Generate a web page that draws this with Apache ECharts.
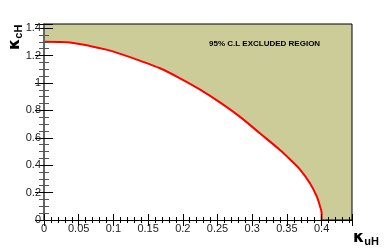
<!DOCTYPE html>
<html><head><meta charset="utf-8">
<script src="https://cdn.jsdelivr.net/npm/echarts@6/dist/echarts.min.js"></script>
<style>html,body{margin:0;padding:0;background:#fff}#c{width:391px;height:249px}</style>
</head><body><div id="c"></div>
<script>
// Contour of the 95% C.L. limit: kappa_uH (x) vs kappa_cH (y)
var kuH = [0, 0.02, 0.0375, 0.066, 0.09, 0.11, 0.138, 0.167, 0.196, 0.225, 0.254, 0.282, 0.311, 0.340, 0.355, 0.369, 0.383, 0.393, 0.398, 0.4, 0.4];
var kcH = [1.30, 1.299, 1.295, 1.27, 1.243, 1.212, 1.163, 1.107, 1.034, 0.951, 0.856, 0.754, 0.633, 0.511, 0.44, 0.368, 0.27, 0.172, 0.095, 0.05, 0];
var xTicks = [0, 0.05, 0.1, 0.15, 0.2, 0.25, 0.3, 0.35, 0.4];
var yTicks = [0, 0.2, 0.4, 0.6, 0.8, 1, 1.2, 1.4];
var xMax = 0.4438, yMax = 1.43;
var regionLabel = '95% C.L EXCLUDED REGION';

var data = kuH.map(function (x, i) { return [x, kcH[i]]; });
var fmt = function (v) {
  var all = xTicks.concat(yTicks);
  for (var i = 0; i < all.length; i++) if (Math.abs(all[i] - v) < 1e-6) return String(all[i]);
  return '';
};
var chart = echarts.init(document.getElementById('c'), null, {renderer: 'canvas'});
var font = 'Liberation Sans, Arial, sans-serif';
var common = {
  type: 'value', z: 5,
  axisLine: {show: true, lineStyle: {color: '#000', width: 1}},
  splitLine: {show: false}
};
chart.setOption({
  animation: false,
  grid: {left: 44, right: 39, top: 24, bottom: 29, show: true, backgroundColor: '#cccc99', borderColor: '#000', borderWidth: 1},
  xAxis: [
    Object.assign({}, common, {
      min: 0, max: xMax, interval: 0.05, position: 'bottom',
      axisTick: {inside: true, length: 6, lineStyle: {color: '#000'}},
      minorTick: {show: true, splitNumber: 5, length: 3, lineStyle: {color: '#000'}},
      axisLabel: {formatter: fmt, showMaxLabel: false, fontFamily: font, fontSize: 11, color: '#222', margin: 3}
    }),
    Object.assign({}, common, {
      min: 0, max: xMax, interval: 0.05, position: 'top',
      axisTick: {inside: true, length: 6, lineStyle: {color: '#000'}},
      minorTick: {show: true, splitNumber: 5, length: 3, lineStyle: {color: '#000'}},
      axisLabel: {show: false}
    })
  ],
  yAxis: [
    Object.assign({}, common, {
      min: 0, max: yMax, interval: 0.2, position: 'left',
      axisLine: {show: true, lineStyle: {color: '#666', width: 2}},
      axisTick: {inside: true, length: 9, lineStyle: {color: '#000'}},
      minorTick: {show: true, splitNumber: 4, length: 5, lineStyle: {color: '#555'}},
      axisLabel: {formatter: fmt, showMaxLabel: true, fontFamily: font, fontSize: 11, color: '#222', margin: 3}
    }),
    Object.assign({}, common, {
      min: 0, max: yMax, interval: 0.2, position: 'right',
      axisLine: {show: true, lineStyle: {color: '#666', width: 1}},
      axisTick: {inside: true, length: 9, lineStyle: {color: '#000'}},
      minorTick: {show: true, splitNumber: 4, length: 5, lineStyle: {color: '#555'}},
      axisLabel: {show: false}
    })
  ],
  series: [{
    type: 'line', data: data, xAxisIndex: 0, yAxisIndex: 0,
    showSymbol: false, symbol: 'none', smooth: 0.35,
    lineStyle: {color: '#ff0000', width: 2},
    areaStyle: {color: '#ffffff', opacity: 1, origin: 'start'},
    z: 2
  }],
  graphic: [
    {type: 'text', left: 209, top: 40, z: 10,
     style: {text: regionLabel, font: 'bold 8px ' + font, fill: '#000'}},
    {type: 'text', x: 6, y: 50, rotation: Math.PI / 2, z: 10,
     style: {text: '{k|κ}{s|cH}', rich: {
       k: {font: 'bold 16px DejaVu Sans', fill: '#000'},
       s: {font: 'bold 11px Liberation Sans', fill: '#000', padding: [7, 0, 0, 0]}
     }}},
    {type: 'text', left: 353, top: 230, z: 10,
     style: {text: '{k|κ}{s|uH}', rich: {
       k: {font: 'bold 16px DejaVu Sans', fill: '#000'},
       s: {font: 'bold 11px Liberation Sans', fill: '#000', padding: [7, 0, 0, 0]}
     }}}
  ]
});
</script></body></html>
